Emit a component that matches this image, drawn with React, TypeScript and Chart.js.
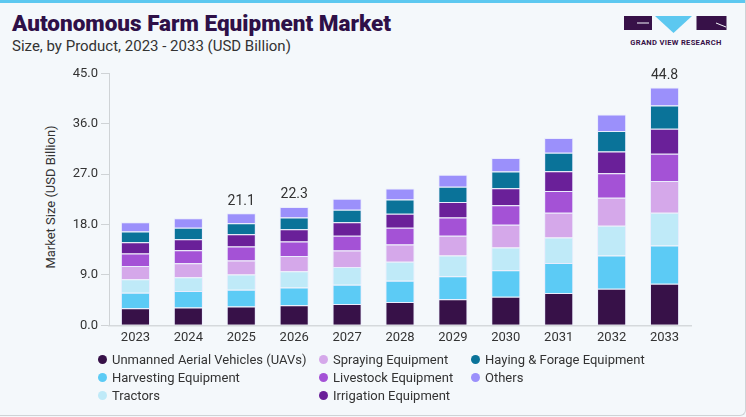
import React, { useEffect, useRef } from "react";
import { Chart, registerables } from "chart.js";

Chart.register(...registerables);

const years = ["2023", "2024", "2025", "2026", "2027", "2028", "2029", "2030", "2031", "2032", "2033"];

const uavs = [3.06, 3.18, 3.35, 3.59, 3.82, 4.18, 4.65, 5.12, 5.76, 6.53, 7.41];
const harvesting = [2.76, 2.94, 3.0, 3.18, 3.41, 3.76, 4.12, 4.71, 5.35, 5.94, 6.82];
const tractors = [2.41, 2.47, 2.71, 2.88, 3.18, 3.41, 3.71, 4.06, 4.59, 5.29, 5.88];
const spraying = [2.35, 2.47, 2.53, 2.71, 2.94, 3.06, 3.53, 4.06, 4.41, 5.0, 5.65];
const livestock = [2.24, 2.35, 2.47, 2.59, 2.65, 3.0, 3.24, 3.47, 3.88, 4.41, 4.88];
const irrigation = [2.0, 1.94, 2.18, 2.18, 2.41, 2.53, 2.76, 3.06, 3.53, 3.88, 4.47];
const haying = [1.94, 2.06, 2.0, 2.12, 2.24, 2.53, 2.71, 3.0, 3.29, 3.65, 4.12];
const others = [1.65, 1.71, 1.76, 1.88, 1.94, 1.94, 2.18, 2.41, 2.65, 2.94, 3.24];

const totalLabels = ["", "", "21.1", "22.3", "", "", "", "", "", "", "44.8"];

const yTicks = [0, 9, 18, 27, 36, 45];

const seriesNames = [
  "Unmanned Aerial Vehicles (UAVs)",
  "Harvesting Equipment",
  "Tractors",
  "Spraying Equipment",
  "Livestock Equipment",
  "Irrigation Equipment",
  "Haying & Forage Equipment",
  "Others",
];
const seriesColors = ["#371148", "#5ccbf5", "#bfeaf8", "#d5a8ea", "#a452d6", "#6a2099", "#0a7399", "#9b90fb"];
const seriesData = [uavs, harvesting, tractors, spraying, livestock, irrigation, haying, others];

const FONT = "Roboto, 'Noto Sans', sans-serif";

const totalsPlugin = {
  id: "totals",
  afterDatasetsDraw(chart: any) {
    const ctx = chart.ctx;
    const last = chart.data.datasets.length - 1;
    const meta = chart.getDatasetMeta(last);
    ctx.save();
    ctx.font = `14px ${FONT}`;
    ctx.fillStyle = "#333";
    ctx.textAlign = "center";
    ctx.textBaseline = "middle";
    meta.data.forEach((bar: any, i: number) => {
      const t = totalLabels[i];
      if (t) ctx.fillText(t, bar.x, bar.y - 12);
    });
    ctx.restore();
  },
};

export default function App() {
  const ref = useRef<HTMLCanvasElement>(null);
  useEffect(() => {
    document.body.style.margin = "0";
    const chart = new Chart(ref.current!, {
      type: "bar",
      data: {
        labels: years,
        datasets: seriesData.map((d, i) => ({
          label: seriesNames[i],
          data: d,
          backgroundColor: seriesColors[i],
          borderColor: "rgba(225,225,255,0.55)",
          borderWidth: 1,
          barPercentage: 0.55,
          categoryPercentage: 1,
        })),
      },
      options: {
        animation: false,
        responsive: false,
        maintainAspectRatio: false,
        layout: { padding: { top: 18.3, right: 55, left: 0, bottom: 0 } },
        plugins: { legend: { display: false }, tooltip: { enabled: false } },
        scales: {
          x: {
            stacked: true,
            grid: { display: false, drawTicks: false },
            border: { display: true, color: "#d5d9dc", width: 1.5 },
            ticks: { color: "#333", font: { size: 13, family: FONT }, padding: 5 },
            afterFit: (s: any) => {
              s.height = 29.7;
            },
          },
          y: {
            stacked: true,
            min: 0,
            max: 45,
            afterBuildTicks: (s: any) => {
              s.ticks = yTicks.map((v) => ({ value: v }));
            },
            grid: { display: true, drawOnChartArea: false, drawTicks: true, tickLength: 8, color: "#cfd3d6" },
            border: { display: true, color: "#cfd3d6" },
            ticks: {
              color: "#333",
              font: { size: 13, family: FONT },
              padding: 3,
              callback: (v: any) => Number(v).toFixed(1),
            },
            afterFit: (s: any) => {
              s.width = 109;
            },
          },
        },
      },
      plugins: [totalsPlugin],
    });
    return () => chart.destroy();
  }, []);

  const legendCols = [
    [0, 1, 2],
    [3, 4, 5],
    [6, 7],
  ];
  const colX = [98, 319, 471];

  return (
    <div
      style={{
        position: "fixed",
        left: 0,
        top: 0,
        width: 746,
        height: 417,
        background: "#f4f8fb",
        fontFamily: FONT,
        overflow: "hidden",
      }}
    >
      <div style={{ position: "absolute", left: 0, top: 0, width: 746, height: 3, background: "#5cc8f0" }} />
      <div
        style={{
          position: "absolute",
          left: 0,
          top: 0,
          width: 745,
          height: 415,
          borderRight: "1px solid #cfd3d6",
          borderBottom: "1px solid #cfd3d6",
          borderBottomRightRadius: 6,
        }}
      />
      <div
        style={{
          position: "absolute",
          left: 12,
          top: 10,
          fontSize: 22.5,
          fontWeight: 900,
          color: "#2e1048",
          whiteSpace: "nowrap",
        }}
      >
        Autonomous Farm Equipment Market
      </div>
      <div style={{ position: "absolute", left: 12, top: 37, fontSize: 15, color: "#333", whiteSpace: "nowrap" }}>
        Size, by Product, 2023 - 2033 (USD Billion)
      </div>
      <svg style={{ position: "absolute", left: 620, top: 11 }} width={112} height={38}>
        <rect x={4} y={5} width={28} height={14} fill="#371148" />
        <line x1={17} y1={12} x2={29} y2={12} stroke="#f4f8fb" strokeWidth={1} />
        <polygon points="35,5 72,5 53.5,22" fill="#5cc8f0" />
        <rect x={76.5} y={5} width={30} height={14} fill="#371148" />
        <line x1={96} y1={12} x2={106} y2={16} stroke="#f4f8fb" strokeWidth={1} />
        <text x={56} y={34} textAnchor="middle" fontSize={7.6} fontWeight={700} fill="#371148" fontFamily={FONT} letterSpacing={0.3}>
          GRAND VIEW RESEARCH
        </text>
      </svg>
      <div
        style={{
          position: "absolute",
          left: 50,
          top: 197,
          transform: "translate(-50%, -50%) rotate(-90deg)",
          fontSize: 13,
          color: "#333",
          whiteSpace: "nowrap",
        }}
      >
        Market Size (USD Billion)
      </div>
      <canvas ref={ref} width={746} height={300} style={{ position: "absolute", left: 0, top: 55, width: 746, height: 300 }} />
      {legendCols.map((col, ci) =>
        col.map((si, ri) => (
          <div
            key={si}
            style={{
              position: "absolute",
              left: colX[ci],
              top: 359 + ri * 18.3 - 9,
              height: 18,
              display: "flex",
              alignItems: "center",
              fontSize: 13,
              color: "#333",
              whiteSpace: "nowrap",
            }}
          >
            <span
              style={{
                display: "inline-block",
                width: 9,
                height: 9,
                borderRadius: "50%",
                background: seriesColors[si],
                marginRight: 5,
              }}
            />
            {seriesNames[si]}
          </div>
        ))
      )}
    </div>
  );
}
